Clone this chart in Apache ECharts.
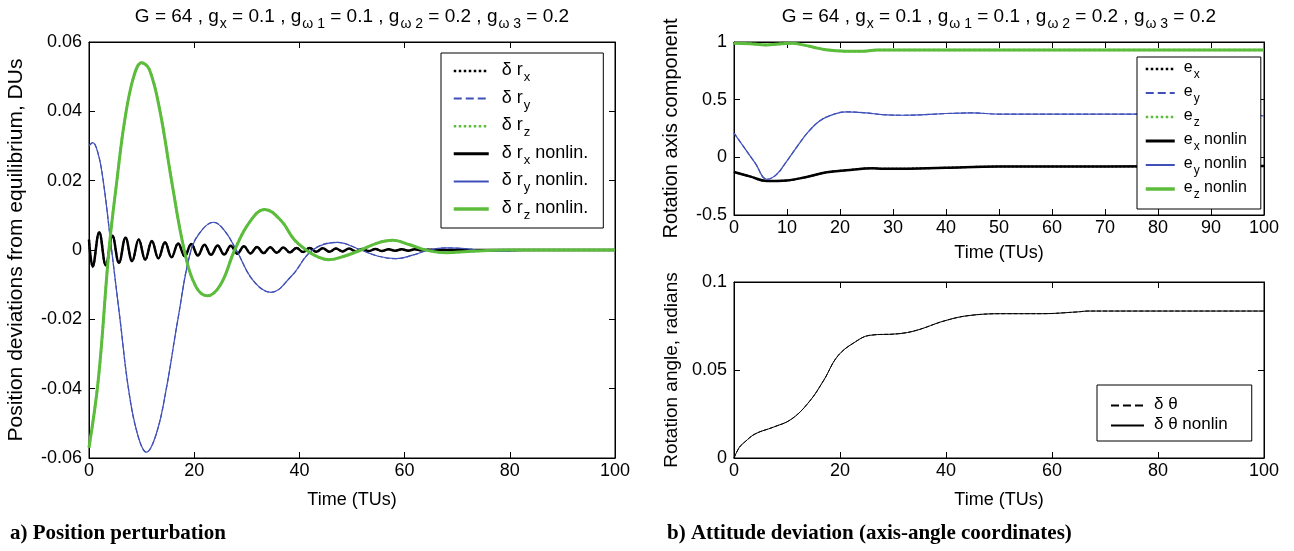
<!DOCTYPE html>
<meta charset="utf-8">
<style>
html, body { margin: 0; padding: 0; background: #fff; }
#chart { width: 1294px; height: 551px; }
</style>
<body>
<div id="chart"></div>
<script src="https://cdn.jsdelivr.net/npm/echarts@6/dist/echarts.min.js"></script>
<script>

// ---- data ----
// a) position perturbation (time in TUs, value in DUs)
var rxT = [0, 0.7, 1.95, 3.2, 4.45, 5.7, 6.95, 8.2, 9.45, 10.7, 11.95, 13.2, 14.45, 15.7, 16.95, 18.2, 19.45,
           20.7, 21.95, 23.2, 24.45, 25.7, 26.95, 28.2, 29.45, 30.7, 31.95, 33.2, 34.45, 35.7, 36.95, 38.2, 39.45,
           40.7, 41.95, 43.2, 44.45, 45.7, 46.95, 48.2, 49.45, 50.7, 51.95, 53.2, 54.45, 55.7, 56.95, 58.2, 59.45,
           60.7, 61.95, 63.2, 64.45, 66, 100];
var rxV = [0.003, -0.0048, 0.0051, -0.0044, 0.0041, -0.0037, 0.0035, -0.0032, 0.003, -0.0028, 0.0026, -0.0024, 0.0022, -0.0021, 0.0019, -0.0018, 0.0017,
           -0.0016, 0.0015, -0.0014, 0.0013, -0.0013, 0.0012, -0.0011, 0.0011, -0.001, 0.0009, -0.0009, 0.0008, -0.0008, 0.0007, -0.0007, 0.0006,
           -0.0006, 0.0006, -0.0005, 0.0005, -0.0005, 0.0004, -0.0004, 0.0004, -0.0004, 0.0003, -0.0003, 0.0003, -0.0003, 0.0002, -0.0002, 0.0002,
           -0.0002, 0.0002, -0.0001, 0.0001, 0, 0];

var ryT = [0, 0.7, 1.7, 2.7, 4.3, 5.9, 7.5, 9.2, 10.9, 12.8, 14.7, 16.9, 19.4, 21.5, 23.7, 25.8, 28, 31.3, 34.6,
           38.5, 42.5, 47.2, 51.7, 55, 58.4, 61.5, 64.7, 68, 72, 76, 80, 85, 90, 100];
var ryV = [0.030, 0.031, 0.028, 0.02, 0, -0.02, -0.04, -0.053, -0.0583, -0.053, -0.04, -0.02, 0, 0.0058, 0.008, 0.0055, 0, -0.009, -0.0122,
           -0.0075, 0, 0.0022, 0, -0.0018, -0.0025, -0.0015, 0, 0.0006, 0.0003, -0.0004, -0.0003, 0, 0, 0];

var rzT = [0, 1.8, 3.8, 5.3, 6.8, 8.5, 10, 11.5, 13.5, 15.7, 18.1, 20.3, 22.5, 25, 27.7, 30.5, 33.4, 36.5, 39,
           41.3, 43.5, 45.6, 48.5, 51.7, 54.8, 57.7, 61, 64, 68, 72, 80, 90, 100];
var rzV = [-0.057, -0.037, 0, 0.02, 0.0375, 0.05, 0.054, 0.052, 0.04, 0.02, 0, -0.0105, -0.0132, -0.01, 0, 0.008, 0.0117, 0.0085, 0.003,
           0, -0.002, -0.0028, -0.0018, 0, 0.002, 0.0028, 0.0015, 0, -0.0008, -0.0004, 0, 0, 0];

// b) rotation axis components
var exT = [0, 3, 6.2, 10, 13.7, 17.5, 21.2, 26.2, 28, 33, 40, 50, 60, 80, 100];
var exV = [-0.127, -0.165, -0.205, -0.2, -0.17, -0.13, -0.112, -0.095, -0.1, -0.098, -0.09, -0.08, -0.08, -0.078, -0.075];

var eyT = [0, 2, 4, 6.2, 8, 10, 12, 14, 16, 18, 21.2, 25, 28, 32, 36, 40, 45, 50, 60, 70, 80, 90, 100];
var eyV = [0.21, 0.08, -0.05, -0.19, -0.15, -0.03, 0.1, 0.22, 0.31, 0.36, 0.395, 0.385, 0.37, 0.365, 0.37, 0.38, 0.385, 0.375, 0.375, 0.375, 0.375, 0.375, 0.36];

var ezT = [0, 3, 6, 9, 11, 13, 15, 17, 19, 21, 24, 27, 32, 40, 60, 80, 100];
var ezV = [0.99, 0.985, 0.975, 0.985, 0.99, 0.975, 0.955, 0.935, 0.925, 0.92, 0.92, 0.93, 0.93, 0.93, 0.93, 0.93, 0.93];

// b) rotation angle, radians
var thT = [0, 1, 2, 4, 7.4, 10.8, 14.2, 16.9, 19.6, 22.9, 25.6, 31, 34.4, 39.8, 44.5, 51.3, 58, 64.8, 66.8, 100];
var thV = [0, 0.006, 0.009, 0.0137, 0.0175, 0.022, 0.032, 0.044, 0.058, 0.066, 0.0697, 0.0706, 0.0725, 0.078, 0.081, 0.082, 0.082, 0.083, 0.0835, 0.0835];

var posTicks = {min: -0.06, max: 0.06, interval: 0.02};
var axisTicks = {min: -0.5, max: 1, interval: 0.5};
var angTicks = {min: 0, max: 0.1, interval: 0.05};

var F = "'Liberation Sans', Arial, sans-serif";
var GREEN = '#5cbd3c', BLUE = '#3f50b8', BLACK = '#000';

function pairs(t, v) {
  return t.map(function (x, i) { return [x, v[i]]; });
}

function line(name, idx, t, v, color, width, type) {
  return {
    name: name, type: 'line', xAxisIndex: idx, yAxisIndex: idx,
    data: pairs(t, v), symbol: 'none', smooth: 0.4,
    lineStyle: {color: color, width: width, type: type},
    // transparent so the legend shows only the line sample
    itemStyle: {color: 'rgba(0,0,0,0)', borderWidth: 0}
  };
}

function xAx(grid, ticks, mirror, gap) {
  return {
    type: 'value', gridIndex: grid, position: mirror ? 'top' : 'bottom',
    min: 0, max: 100, interval: ticks,
    name: mirror ? '' : 'Time (TUs)', nameLocation: 'middle', nameGap: gap,
    nameTextStyle: {fontSize: 18, color: '#000', fontFamily: F},
    axisLine: {show: true, onZero: false, lineStyle: {color: '#000', width: 1}},
    axisTick: {inside: true, length: 6, lineStyle: {color: '#000'}},
    axisLabel: {show: !mirror, color: '#000', fontSize: 18, fontFamily: F, margin: 4},
    splitLine: {show: false}
  };
}

function yAx(grid, r, mirror, name, gap, nameSize) {
  return {
    type: 'value', gridIndex: grid, position: mirror ? 'right' : 'left',
    min: r.min, max: r.max, interval: r.interval,
    name: mirror ? '' : name, nameLocation: 'middle', nameGap: gap,
    nameTextStyle: {fontSize: nameSize || 20, color: '#000', fontFamily: F},
    axisLine: {show: true, onZero: false, lineStyle: {color: '#000', width: 1}},
    axisTick: {inside: true, length: 6, lineStyle: {color: '#000'}},
    axisLabel: {show: !mirror, color: '#000', fontSize: 18, fontFamily: F, margin: 7},
    splitLine: {show: false}
  };
}

var legendText = {
  rx: '{f|δ r}{s|x}', ry: '{f|δ r}{s|y}', rz: '{f|δ r}{s|z}',
  rxn: '{f|δ r}{s|x}{n| nonlin.}', ryn: '{f|δ r}{s|y}{n| nonlin.}', rzn: '{f|δ r}{s|z}{n| nonlin.}',
  ex: '{f|e}{s|x}', ey: '{f|e}{s|y}', ez: '{f|e}{s|z}',
  exn: '{f|e}{s|x}{n| nonlin}', eyn: '{f|e}{s|y}{n| nonlin}', ezn: '{f|e}{s|z}{n| nonlin}',
  th: '{f|δ θ}', thn: '{f|δ θ nonlin}'
};

function richSet(size, sub, drop, lead) {
  return {
    f: {fontSize: size, fontFamily: F, color: '#000', lineHeight: size + 2, verticalAlign: 'top', padding: [0, 0, 0, lead]},
    n: {fontSize: size, fontFamily: F, color: '#000', lineHeight: size + 2, verticalAlign: 'top'},
    s: {fontSize: sub, fontFamily: F, color: '#000', lineHeight: sub, verticalAlign: 'top', padding: [drop, 0, 0, 1]}
  };
}

function legendBox(data, left, top, pad, size, sub, drop, lead, w, gap) {
  return {
    data: data, orient: 'vertical', left: left, top: top, padding: pad,
    itemWidth: w, itemHeight: 14, itemGap: gap, selectedMode: false,
    backgroundColor: '#fff', borderColor: '#000', borderWidth: 1, borderRadius: 0,
    itemStyle: {opacity: 0},
    formatter: function (name) { return legendText[name]; },
    textStyle: {rich: richSet(size, sub, drop, lead)}
  };
}

function thick(name, w) {
  return {name: name, lineStyle: {width: w}};
}

var titleText = '{n|G = 64 , g}{s|x}{n| = 0.1 , g}{s|ω 1}{n| = 0.1 , g}{s|ω 2}{n| = 0.2 , g}{s|ω 3}{n| = 0.2}';
var titleStyle = {
  fontWeight: 'normal',
  rich: {
    n: {fontSize: 19, fontFamily: F, fontWeight: 'normal', color: '#000', lineHeight: 20, verticalAlign: 'top'},
    s: {fontSize: 14, fontFamily: F, fontWeight: 'normal', color: '#000', lineHeight: 14, verticalAlign: 'top', padding: [10, 0, 0, 1]}
  }
};
var capStyle = {fontFamily: "'Liberation Serif', 'Times New Roman', serif", fontWeight: 'bold', fontSize: 21, color: '#000'};

var chart = echarts.init(document.getElementById('chart'), null, {renderer: 'canvas'});

var option = {
  animation: false,
  backgroundColor: '#fff',
  title: [
    {text: titleText, left: 352, top: 7, textAlign: 'center', padding: 0, textStyle: titleStyle},
    {text: titleText, left: 999, top: 7, textAlign: 'center', padding: 0, textStyle: titleStyle},
    {text: 'a) Position perturbation', left: 10, top: 523, padding: 0, textStyle: capStyle},
    {text: 'b) Attitude deviation (axis-angle coordinates)', left: 667, top: 523, padding: 0, textStyle: capStyle}
  ],
  legend: [
    legendBox([thick('rx', 2.5), 'ry', thick('rz', 2.5), thick('rxn', 3), 'ryn', thick('rzn', 3.5)],
              441, 53, [8, 15, 6, 11], 18, 13, 10, 8, 35, 4.6),
    legendBox([thick('ex', 2.5), 'ey', thick('ez', 2.5), thick('exn', 3), 'eyn', thick('ezn', 3.5)],
              1137, 57, [3, 14, 8, 7], 16, 12, 9, 4, 29, 3),
    legendBox(['th', 'thn'], 1097, 385, [11, 24, 8, 13], 17, 12, 9, 5, 33, 3)
  ],
  grid: [
    {left: 89, top: 42, width: 526, height: 416, show: true, borderColor: '#000', borderWidth: 1, backgroundColor: '#fff'},
    {left: 734, top: 42, width: 530, height: 173, show: true, borderColor: '#000', borderWidth: 1, backgroundColor: '#fff'},
    {left: 734, top: 282, width: 530, height: 176, show: true, borderColor: '#000', borderWidth: 1, backgroundColor: '#fff'}
  ],
  xAxis: [
    xAx(0, 20, false, 33), xAx(1, 10, false, 29), xAx(2, 20, false, 33),
    xAx(0, 20, true, 0), xAx(1, 10, true, 0), xAx(2, 20, true, 0)
  ],
  yAxis: [
    yAx(0, posTicks, false, 'Position deviations from equilibrium, DUs', 62, 21),
    yAx(1, axisTicks, false, 'Rotation axis component', 53, 20),
    yAx(2, angTicks, false, 'Rotation angle, radians', 53, 19),
    yAx(0, posTicks, true), yAx(1, axisTicks, true), yAx(2, angTicks, true)
  ],
  series: [
    line('rx', 0, rxT, rxV, BLACK, 2, 'dotted'),
    line('ry', 0, ryT, ryV, BLUE, 1.2, 'dashed'),
    line('rz', 0, rzT, rzV, GREEN, 2.5, 'dotted'),
    line('rxn', 0, rxT, rxV, BLACK, 2.5, 'solid'),
    line('ryn', 0, ryT, ryV, BLUE, 1.2, 'solid'),
    line('rzn', 0, rzT, rzV, GREEN, 3, 'solid'),

    line('ex', 1, exT, exV, BLACK, 2, 'dotted'),
    line('ey', 1, eyT, eyV, BLUE, 1.2, 'dashed'),
    line('ez', 1, ezT, ezV, GREEN, 2.5, 'dotted'),
    line('exn', 1, exT, exV, BLACK, 2.5, 'solid'),
    line('eyn', 1, eyT, eyV, BLUE, 1.2, 'solid'),
    line('ezn', 1, ezT, ezV, GREEN, 3, 'solid'),

    line('th', 2, thT, thV, BLACK, 1, 'dashed'),
    line('thn', 2, thT, thV, BLACK, 1, 'solid')
  ]
};

chart.setOption(option);
window.addEventListener('resize', chart.resize);
</script>
</body>
